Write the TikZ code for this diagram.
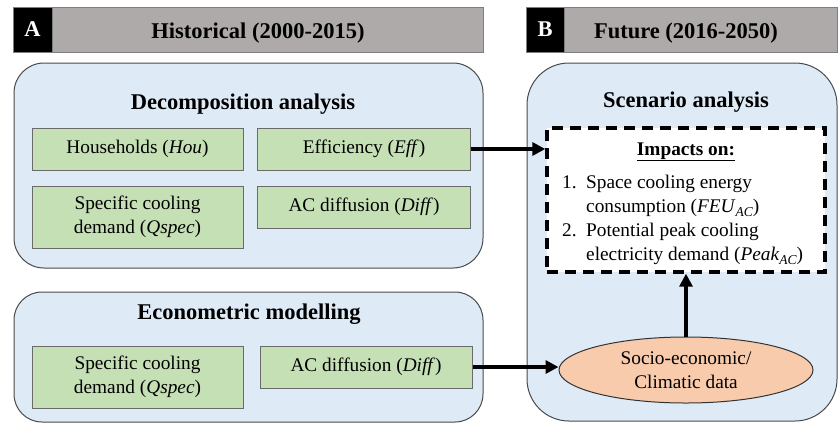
\documentclass[tikz,border=0pt]{standalone}
\usepackage{fontspec}
\setmainfont{Liberation Serif}
\usetikzlibrary{shapes.geometric,arrows.meta}
\definecolor{bluefill}{HTML}{DEEBF7}
\definecolor{blueline}{HTML}{4A4A4A}
\definecolor{greenfill}{HTML}{C5E0B4}
\definecolor{greenline}{HTML}{6A6A6A}
\definecolor{headgray}{HTML}{AEAAAA}
\definecolor{headline}{HTML}{7F7F7F}
\definecolor{orangefill}{HTML}{F8CBAD}
\newcommand{\subAC}{\raisebox{-0.25em}{\fontsize{13.5}{13.5}\selectfont\itshape AC}}
\begin{document}
\begin{tikzpicture}[x=1pt,y=-1pt,
  bodyfont/.style={font=\fontsize{19.3}{24}\selectfont},
  titlefont/.style={font=\fontsize{22.5}{27}\selectfont\bfseries},
  bluebox/.style={draw=blueline,line width=1pt,fill=bluefill,inner sep=0pt},
  greenbox/.style={draw=greenline,line width=1pt,fill=greenfill,inner sep=0pt,bodyfont,align=center},
  headbar/.style={draw=headline,line width=0.9pt,fill=headgray,inner sep=0pt,minimum height=45pt},
  letterbox/.style={draw=headline,line width=0.9pt,fill=black,inner sep=0pt,minimum height=45pt,text=white,titlefont},
  arr/.style={line width=3.2pt,-{Triangle[length=13pt,width=13pt]}},
  dashbox/.style={draw=black,line width=3.4pt,dash pattern=on 11pt off 7pt,fill=white,inner sep=0pt},
  ellbox/.style={ellipse,draw=black!80,line width=1pt,fill=orangefill,inner sep=0pt,bodyfont,align=center}
]
\useasboundingbox (0,0) rectangle (838,424);

% headers
\node[headbar,minimum width=431pt] (hA) at (267.5,29.5) {};
\node[letterbox,minimum width=39pt] (aA) at (32.5,29.5) {A};
\node[titlefont,anchor=base] (tA) at (258,38) {Historical (2000-2015)};
\node[headbar,minimum width=273pt] (hB) at (700.5,29.5) {};
\node[letterbox,minimum width=38pt] (aB) at (545,29.5) {B};
\node[titlefont,anchor=base] (tB) at (686,38) {Future (2016-2050)};

% containers
\node[bluebox,rounded corners=30pt,minimum width=469pt,minimum height=205pt] (dec) at (248.5,165.5) {};
\node[bluebox,rounded corners=28pt,minimum width=469pt,minimum height=130pt] (eco) at (248.5,357) {};
\node[bluebox,rounded corners=42pt,minimum width=310pt,minimum height=358pt] (sce) at (682,242) {};

% titles
\node[titlefont,anchor=base] (tdec) at (243,109) {Decomposition analysis};
\node[titlefont,anchor=base] (teco) at (249,319) {Econometric modelling};
\node[titlefont,anchor=base] (tsce) at (686,107) {Scenario analysis};

% decomposition boxes
\node[greenbox,minimum width=211pt,minimum height=42pt] (hou) at (137.5,149) {Households (\textit{Hou})};
\node[greenbox,minimum width=213pt,minimum height=42pt] (eff) at (364,149) {Efficiency (\textit{Eff})};
\node[greenbox,minimum width=211pt,minimum height=62pt] (qs1) at (137.5,217) {Specific cooling\\demand (\textit{Qspec})};
\node[greenbox,minimum width=213pt,minimum height=42pt] (dif1) at (364,207) {AC diffusion (\textit{Diff})};

% econometric boxes
\node[greenbox,minimum width=211pt,minimum height=62pt] (qs2) at (137.5,377) {Specific cooling\\demand (\textit{Qspec})};
\node[greenbox,minimum width=212pt,minimum height=42pt] (dif2) at (366,367) {AC diffusion (\textit{Diff})};

% scenario content
\node[dashbox,minimum width=278pt,minimum height=144pt] (imp) at (686,200) {};
\node[bodyfont,anchor=base] (impt) at (686,155) {\textbf{\underline{Impacts on:}}};
\node[bodyfont,anchor=base west,inner sep=0pt] (lst) at (562,188) {\begin{tabular}[t]{@{}l@{\hspace{9.5pt}}l@{}}
1. & Space cooling energy\\
   & consumption (\textit{FEU}\subAC)\\
2. & Potential peak cooling\\
   & electricity demand (\textit{Peak}\subAC)
\end{tabular}};
\node[ellbox,minimum width=254pt,minimum height=66pt] (ell) at (686,370) {Socio-economic/\\Climatic data};

% connectors
\draw[arr] (eff.east) -- (eff.east -| imp.west);
\draw[arr] (dif2.east) -- (dif2.east -| ell.west);
\draw[arr] (ell.north) -- (imp.south);
\end{tikzpicture}
\end{document}
